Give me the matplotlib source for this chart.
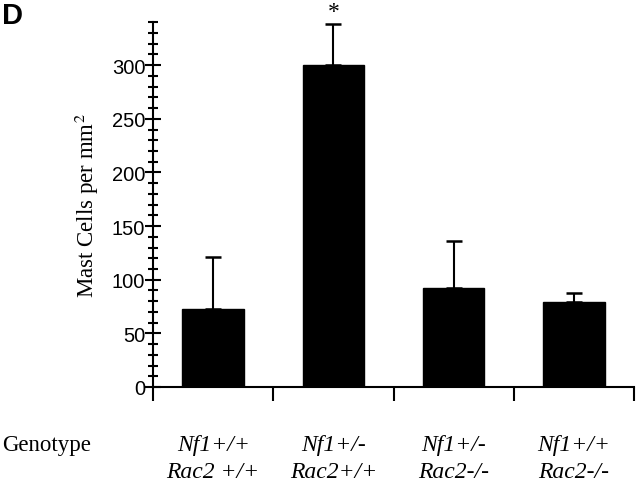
import matplotlib
matplotlib.use("Agg")
import matplotlib.pyplot as plt
import numpy as np

categories_line1 = ["Nf1+/+", "Nf1+/-", "Nf1+/-", "Nf1+/+"]
categories_line2 = ["Rac2 +/+", "Rac2+/+", "Rac2-/-", "Rac2-/-"]
means = [73, 300, 92, 79]
errors = [48, 38, 44, 9]
yticks = [0, 50, 100, 150, 200, 250, 300]

fig = plt.figure(figsize=(6.4, 4.85), dpi=100)
ax = fig.add_axes([0.239, 0.2, 0.752, 0.752])

x = np.arange(len(means)) + 0.5
ax.bar(x, means, width=0.51, color="black", edgecolor="black")
ax.errorbar(x, means, yerr=[np.zeros(len(errors)), errors], fmt="none",
            ecolor="black", elinewidth=1.5, capsize=5.5, capthick=1.8)

ax.set_xlim(0, 4)
ax.set_ylim(0, 340)
for s in ["top", "right"]:
    ax.spines[s].set_visible(False)
ax.spines["left"].set_linewidth(1.5)
ax.spines["bottom"].set_linewidth(1.5)

ax.set_yticks(yticks)
ax.set_yticks(np.arange(0, 341, 10), minor=True)
ax.tick_params(axis="y", which="major", direction="inout", length=11, width=1.5,
               labelsize=14.5, pad=0)
ax.tick_params(axis="y", which="minor", direction="inout", length=7, width=1.5)
for lab in ax.get_yticklabels():
    lab.set_family("Liberation Sans")

ax.set_xticks([0, 1, 2, 3, 4])
ax.set_xticklabels([])
ax.tick_params(axis="x", which="major", direction="out", length=10, width=1.5)

ax.set_ylabel("Mast Cells per mm$^2$", fontsize=16.5, family="Liberation Serif",
              labelpad=8)
ax.yaxis.label.set_math_fontfamily("stix")

ax.text(x[1], 345, "*", ha="center", va="baseline", fontsize=17,
        family="Liberation Serif", clip_on=False)

fig.text(0.003, 0.996, "D", fontsize=21, fontweight="bold",
         family="Liberation Sans", ha="left", va="top")

fig.text(0.004, 1 - 446 / 485, "Genotype", fontsize=16.5, family="Liberation Serif",
         ha="left", va="center")
for xi, l1, l2 in zip(x, categories_line1, categories_line2):
    xf = ax.transData.transform((xi, 0))[0] / fig.bbox.width
    fig.text(xf, 1 - 446 / 485, l1, fontsize=17, family="Liberation Serif",
             style="italic", ha="center", va="center")
    fig.text(xf, 1 - 473 / 485, l2, fontsize=17, family="Liberation Serif",
             style="italic", ha="center", va="center")

fig.savefig("out.png", dpi=100)
